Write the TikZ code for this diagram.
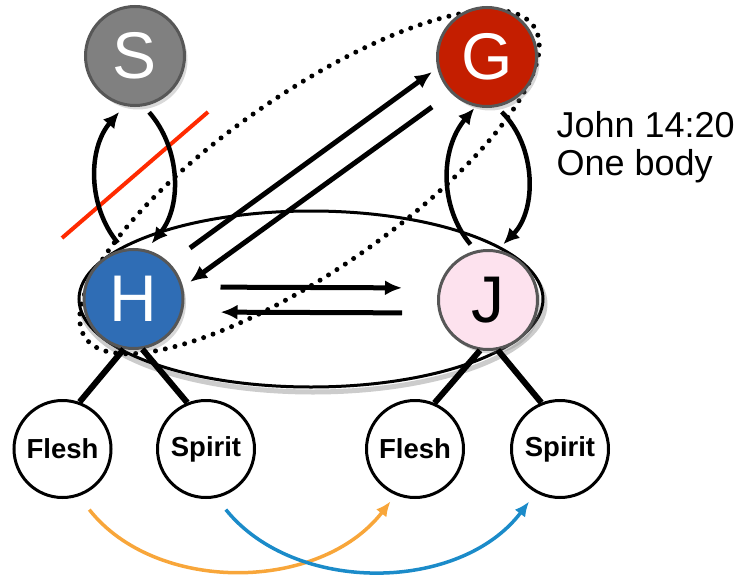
\documentclass[tikz,border=0pt]{standalone}
\usepackage{fontspec}
\setmainfont{Liberation Sans}
\usetikzlibrary{arrows.meta,positioning,shadows}

\definecolor{sinGray}{HTML}{808080}
\definecolor{godRed}{HTML}{C41E00}
\definecolor{humanBlue}{HTML}{2F6DB5}
\definecolor{jesusPink}{HTML}{FDE2EE}
\definecolor{rimGray}{HTML}{575757}
\definecolor{strikeRed}{HTML}{FF2A00}
\definecolor{fleshOrange}{HTML}{F8A63A}
\definecolor{spiritBlue}{HTML}{1B8BC9}

\begin{document}
\begin{tikzpicture}[
  x=1pt, y=1pt,
  who/.style={circle,draw=rimGray,line width=3pt,minimum size=99pt,inner sep=0pt,text=white,
    font=\fontsize{66}{66}\selectfont,drop shadow={opacity=0.3,shadow xshift=3pt,shadow yshift=-4pt}},
  part/.style={circle,draw,line width=3pt,minimum size=97pt,inner sep=0pt,font=\bfseries\fontsize{27.5}{27.5}\selectfont},
  arr/.style={-{Latex[length=17pt,width=15pt]},line width=5pt},
  turn/.style={-{Latex[length=16pt,width=15pt]},line width=4.5pt,bend left=40},
  link/.style={line width=6pt},
  flow/.style={-{Latex[length=15pt,width=13pt]},line width=3.5pt,bend right=52},
  dots/.style={line width=5pt,line cap=round,dash pattern=on 0pt off 10pt}
]
  \useasboundingbox (0,0) rectangle (741,-575);

  \draw[black!20,line width=5pt] (313,-304) ellipse [x radius=232,y radius=88];
  \draw[line width=3pt,fill=white] (311,-299) ellipse [x radius=232,y radius=88];
  \draw[dots,rotate around={34.8:(309.5,-182)}] (309.5,-182) ellipse [x radius=273,y radius=88];
  \draw[strikeRed,line width=4pt] (62,-238) -- (208,-112);

  \node[who,fill=sinGray] (sin) at (135,-56) {S};
  \node[who,fill=godRed] (god) at (487,-57) {G};
  \node[who,fill=humanBlue] (human) at (133.5,-299) {H};
  \node[who,fill=jesusPink,text=black] (jesus) at (488,-300) {J};

  \node[part] (fleshH) at (62.5,-449) {Flesh};
  \node[part] (spiritH) at (206,-449) {Spirit};
  \node[part] (fleshJ) at (415,-449) {Flesh};
  \node[part] (spiritJ) at (560,-449) {Spirit};

  \node[anchor=base west,align=left,font=\fontsize{36}{37}\selectfont] (verse) at (553,-175) {John 14:20\\One body};

  \draw[turn,shorten <=8pt,shorten >=8pt] (human.102) to (sin.258);
  \draw[turn,shorten <=8pt,shorten >=8pt] (sin.280) to (human.75);
  \draw[turn,shorten <=8pt,shorten >=2pt] (jesus.104) to (god.257);
  \draw[turn,shorten <=7pt,shorten >=8pt,bend left=45] (god.281) to (jesus.79);

  \draw[arr] ([shift={(56.5,51)}]human.center) -- ([shift={(-55,-15)}]god.center);
  \draw[arr] ([shift={(-55,-50)}]god.center) -- ([shift={(56.5,17)}]human.center);
  \draw[arr,shorten <=36pt,shorten >=35pt] ([yshift=12pt]human.east) -- ([yshift=12pt]jesus.west);
  \draw[arr,shorten <=35pt,shorten >=36pt] ([yshift=-13pt]jesus.west) -- ([yshift=-13pt]human.east);

  \draw[link] (human.259) -- (fleshH.70);
  \draw[link] (human.280) -- (spiritH.112);
  \draw[link] (jesus.261) -- (fleshJ.67);
  \draw[link] (jesus.281) -- (spiritJ.112);

  \draw[flow,fleshOrange,shorten <=17pt,shorten >=8pt] (fleshH.289) to (fleshJ.247);
  \draw[flow,spiritBlue,shorten <=15pt,shorten >=11pt] (spiritH.282) to (spiritJ.241);
\end{tikzpicture}
\end{document}
